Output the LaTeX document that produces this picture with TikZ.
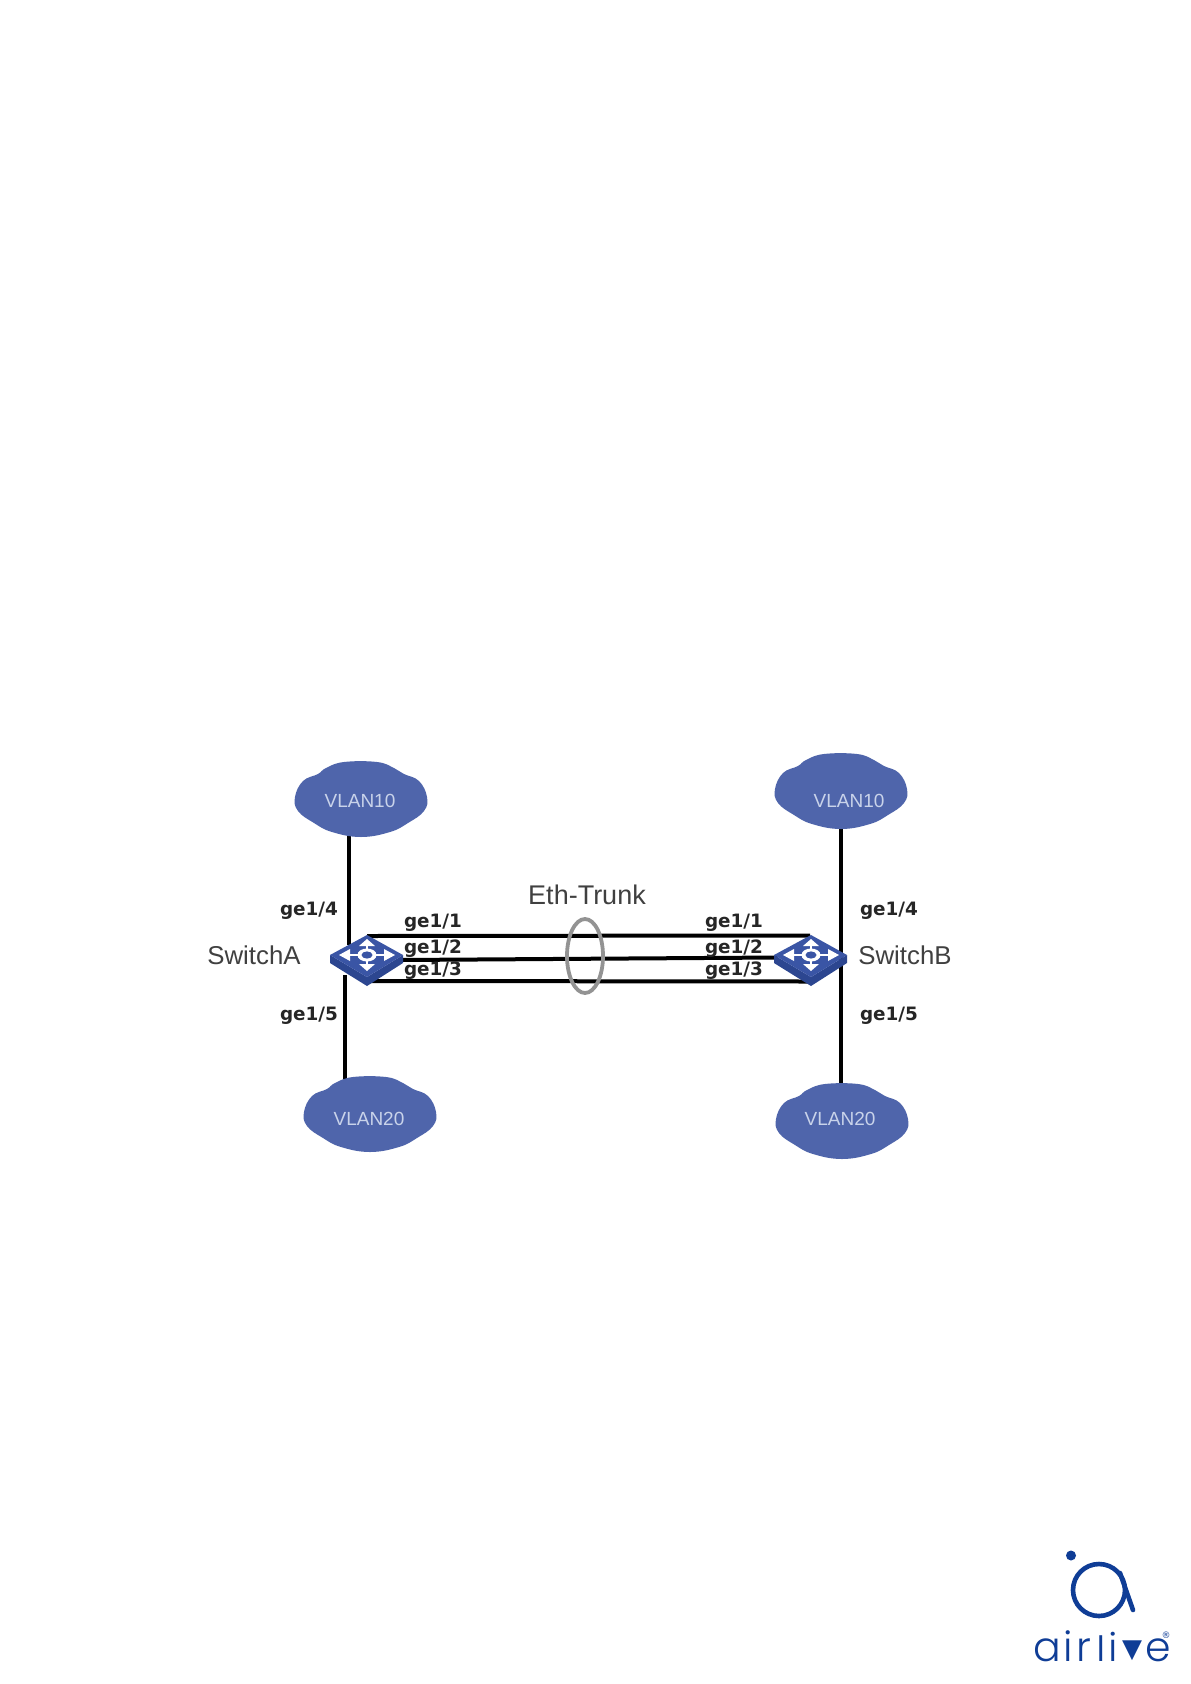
\documentclass[tikz,border=0pt]{standalone}
\usepackage{fontspec}
\setmainfont{Liberation Sans}
\newfontfamily\boldlab{DejaVu Sans}[Scale=1]
\newfontfamily\logofont{Poppins Light}
\newfontfamily\symfont{DejaVu Sans}
\definecolor{cloudblue}{HTML}{4F65AB}
\definecolor{cloudtext}{HTML}{C9D3EA}
\definecolor{swtop}{HTML}{3A55A5}
\definecolor{swside}{HTML}{2C4690}
\definecolor{logoblue}{HTML}{0F3D96}
\definecolor{labelgrey}{HTML}{404040}
\tikzset{
  x=1pt,y=-1pt,
  link/.style={draw=black,line width=4pt},
  trunkring/.style={draw=gray!85,line width=3.8pt},
  vlantext/.style={text=cloudtext,font=\fontsize{19}{19}\selectfont,inner sep=0pt},
  swname/.style={text=labelgrey,font=\fontsize{25.8}{26}\selectfont,inner sep=0pt},
  portlab/.style={text=black!85,font=\boldlab\bfseries\fontsize{18.4}{18.4}\selectfont,inner sep=0pt},
  logoletter/.style={text=logoblue,inner sep=0pt,font=\logofont\fontsize{41}{41}\selectfont},
  pics/vlancloud/.style={code={
    \fill[cloudblue] plot[smooth cycle,tension=.7] coordinates {
      (-35,-31) (-17,-37) (16,-37) (33,-31) (43,-25) (58,-18) (66,-2) (63,12)
      (47,24) (29,33) (0,38) (-29,33) (-47,24) (-63,12) (-66,-2) (-58,-18) (-43,-25)};
  }},
  pics/switchicon/.style={code={
    \fill[swside] (-37,20) -- (0,42) -- (36,20) -- (36,28) -- (0,51) -- (-37,28) -- cycle;
    \fill[swtop] (0,0) -- (36,20) -- (0,42) -- (-37,20) -- cycle;
    \begin{scope}[white,line width=2.4pt]
      \draw (-20,20) -- (20,20);
      \draw (0,9) -- (0,31);
      \fill (-28,20) -- (-17,14) -- (-17,26) -- cycle;
      \fill (28,20) -- (17,14) -- (17,26) -- cycle;
      \fill (0,4) -- (-8,11) -- (8,11) -- cycle;
      \fill (0,36) -- (-8,29) -- (8,29) -- cycle;
      \fill (0,20) ellipse[x radius=9.5,y radius=6.5];
    \end{scope}
    \fill[swtop] (0,20) ellipse[x radius=5.5,y radius=3.6];
  }}
}
\begin{document}
\begin{tikzpicture}
\useasboundingbox (0,0) rectangle (1191,1684);
\fill[white] (0,0) rectangle (1191,1684);
% connection points
\coordinate (a4) at (349,830);
\coordinate (a4p) at (349,945);
\coordinate (a5p) at (345,975);
\coordinate (a5) at (345,1085);
\coordinate (b4) at (841,820);
\coordinate (b5) at (841,1090);
\coordinate (a1) at (367,936);
\coordinate (b1) at (810,935.5);
\coordinate (a2) at (400,960);
\coordinate (b2) at (778,957.5);
\coordinate (a3) at (367,981);
\coordinate (b3) at (810,981.5);
% connectors
\draw[link] (a4) -- (a4p);
\draw[link] (a5p) -- (a5);
\draw[link] (b4) -- (b5);
\draw[link] (a1) -- (b1);
\draw[link] (a2) -- (b2);
\draw[link] (a3) -- (b3);
% trunk ring
\draw[trunkring] (585,956) ellipse[x radius=18,y radius=37];
% switches
\pic at (367,935) {switchicon};
\pic at (811,935) {switchicon};
% clouds
\pic at (361,799) {vlancloud};
\pic at (841,791) {vlancloud};
\pic at (370,1114) {vlancloud};
\pic at (842,1121) {vlancloud};
\node[vlantext] (v10a) at (360,801) {VLAN10};
\node[vlantext] (v10b) at (849,801) {VLAN10};
\node[vlantext] (v20a) at (369,1119) {VLAN20};
\node[vlantext] (v20b) at (840,1119) {VLAN20};
% names
\node[swname] (swa) at (254,955) {SwitchA};
\node[swname] (swb) at (905,955) {SwitchB};
\node[swname,font=\fontsize{27}{27}\selectfont] (trunk) at (587,895) {Eth-Trunk};
% port labels
\node[portlab] (la4) at (309,911) {ge1/4};
\node[portlab] (la5) at (309,1016) {ge1/5};
\node[portlab] (la1) at (433,923) {ge1/1};
\node[portlab] (la2) at (433,949) {ge1/2};
\node[portlab] (la3) at (433,971) {ge1/3};
\node[portlab] (lb1) at (734,923) {ge1/1};
\node[portlab] (lb2) at (734,949) {ge1/2};
\node[portlab] (lb3) at (734,971) {ge1/3};
\node[portlab] (lb4) at (889,911) {ge1/4};
\node[portlab] (lb5) at (889,1016) {ge1/5};
% logo
\fill[logoblue] (1071,1555.5) circle[radius=5];
\draw[logoblue,line width=4.6pt,line cap=round] (1099,1590) circle[radius=26];
\draw[logoblue,line width=4.6pt,line cap=round] (1120,1573) -- (1133,1610);
\node[logoletter,anchor=base] (lga) at (1047,1661) {a};
\node[logoletter,anchor=base] (lgi) at (1068,1661) {i};
\node[logoletter,anchor=base] (lgr) at (1084,1661) {r};
\node[logoletter,anchor=base,yscale=.85,transform shape] (lgl) at (1101,1661) {l};
\node[logoletter,anchor=base,yscale=.95,transform shape] (lgj) at (1113,1661) {i};
\node[text=logoblue,inner sep=0pt,font=\symfont\fontsize{26}{26}\selectfont] (lgv) at (1132,1651) {▼};
\node[logoletter,anchor=base] (lge) at (1158,1661) {e};
\node[text=logoblue,inner sep=0pt,font=\symfont\fontsize{9}{9}\selectfont] (lgreg) at (1166,1635) {®};
\end{tikzpicture}
\end{document}
